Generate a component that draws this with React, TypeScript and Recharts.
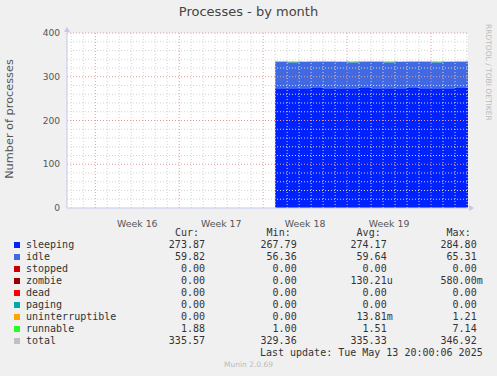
import React from 'react';
import {
  ComposedChart,
  Area,
  Line,
  XAxis,
  YAxis,
  ReferenceLine,
  ReferenceDot,
  ReferenceArea,
} from 'recharts';

// time axis in days from the left edge of the graph
const days = [17.36, 18.36, 19.36, 20.36, 21.36, 22.36, 23.36, 24.36, 25.36, 26.36, 27.36, 28.36, 29.36, 30.36, 31.36, 32.36, 33.44];
const sleeping = [274, 273.6, 274, 274.3, 273.8, 274, 273.7, 274.2, 274, 273.6, 274, 274.3, 273.9, 273.7, 274, 274.1, 273.9];
const idle = [59.8, 59.5, 59.7, 59.6, 59.9, 59.5, 59.7, 59.6, 59.8, 59.7, 59.5, 59.6, 59.8, 59.7, 59.6, 59.7, 59.8];
const runnable = [1.5, 1.6, 1.4, 1.5, 1.7, 1.4, 1.5, 1.6, 1.5, 1.4, 1.5, 1.6, 1.5, 1.5, 1.4, 1.6, 1.9];

const xDomain = [0, 33.44];
const weekLines = [2.36, 9.36, 16.36, 23.36, 30.36];
const weekTicks = [5.86, 12.86, 19.86, 26.86];
const weekLabels = ['Week 16', 'Week 17', 'Week 18', 'Week 19'];
const dayLines = [0.36, 1.36, 3.36, 4.36, 5.36, 6.36, 7.36, 8.36, 10.36, 11.36, 12.36, 13.36, 14.36, 15.36, 17.36, 18.36, 19.36, 20.36, 21.36, 22.36, 24.36, 25.36, 26.36, 27.36, 28.36, 29.36, 31.36, 32.36, 33.36];
const yTicks = [0, 100, 200, 300, 400];
const yMinor = [20, 40, 60, 80, 120, 140, 160, 180, 220, 240, 260, 280, 320, 340, 360, 380];

// legend table
const legendNames = ['sleeping', 'idle', 'stopped', 'zombie', 'dead', 'paging', 'uninterruptible', 'runnable', 'total'];
const legendColors = ['#0022ff', '#4169e1', '#cc0000', '#990000', '#ff0000', '#00aaaa', '#ffa500', '#22ff22', '#c0c0c0'];
const curValues = ['273.87 ', '59.82 ', '0.00 ', '0.00 ', '0.00 ', '0.00 ', '0.00 ', '1.88 ', '335.57 '];
const minValues = ['267.79 ', '56.36 ', '0.00 ', '0.00 ', '0.00 ', '0.00 ', '0.00 ', '1.00 ', '329.36 '];
const avgValues = ['274.17 ', '59.64 ', '0.00 ', '130.21u', '0.00 ', '0.00 ', '13.81m', '1.51 ', '335.33 '];
const maxValues = ['284.80 ', '65.31 ', '0.00 ', '580.00m', '0.00 ', '0.00 ', '1.21 ', '7.14 ', '346.92 '];

const chartData = days.map((d, i) => ({
  day: d,
  sleeping: sleeping[i],
  idle: idle[i],
  runnable: runnable[i],
  total: sleeping[i] + idle[i] + runnable[i],
}));

const minorColor = '#d4d4d4';
const majorColor = '#e39c9c';
const axisColor = '#c6c6ee';
const mono = '"DejaVu Sans Mono", monospace';

const columns = [
  { label: 'Cur:', right: 211, values: curValues },
  { label: 'Min:', right: 302.7, values: minValues },
  { label: 'Avg:', right: 392.7, values: avgValues },
  { label: 'Max:', right: 482.7, values: maxValues },
];

const rowTop = (i: number) => 238.5 + i * 12;

export default function App() {
  return (
    <div
      style={{
        position: 'absolute',
        left: 0,
        top: 0,
        width: 497,
        height: 376,
        background: '#f0f0f0',
        fontFamily: '"DejaVu Sans", sans-serif',
        overflow: 'hidden',
      }}
    >
      <div style={{ position: 'absolute', left: 0, top: 4, width: 497, textAlign: 'center', fontSize: 13, color: '#444', lineHeight: '16px' }}>
        Processes - by month
      </div>
      <div
        style={{
          position: 'absolute',
          left: -90,
          top: 112,
          width: 200,
          height: 14,
          lineHeight: '14px',
          textAlign: 'center',
          fontSize: 11.3,
          color: '#555',
          transform: 'rotate(-90deg)',
        }}
      >
        Number of processes
      </div>
      <div
        style={{
          position: 'absolute',
          left: 483,
          top: 24,
          writingMode: 'vertical-rl',
          fontSize: 7.5,
          color: '#bbb',
          lineHeight: '10px',
        }}
      >
        RRDTOOL / TOBI OETIKER
      </div>

      <ComposedChart width={497} height={376} data={chartData} margin={{ top: 33, right: 29, left: 0, bottom: 0 }}>
        <ReferenceArea x1={xDomain[0]} x2={xDomain[1]} y1={0} y2={400} fill="#ffffff" fillOpacity={1} stroke="none" />
        <XAxis
          dataKey="day"
          type="number"
          domain={xDomain}
          ticks={weekTicks}
          tickFormatter={(v) => weekLabels[weekTicks.indexOf(v)]}
          height={168}
          tickLine={false}
          tickSize={10}
          axisLine={{ stroke: axisColor }}
          tick={{ fontSize: 9.4, fill: '#555' }}
          allowDataOverflow
        />
        <YAxis
          type="number"
          domain={[0, 400]}
          ticks={yTicks}
          width={67}
          tickLine={false}
          tickSize={5}
          axisLine={{ stroke: axisColor }}
          tick={{ fontSize: 9.1, fill: '#555' }}
          allowDataOverflow
        />
        <Area type="stepAfter" dataKey="sleeping" stackId="a" stroke="none" fill="#0022ff" fillOpacity={1} isAnimationActive={false} />
        <Area type="stepAfter" dataKey="idle" stackId="a" stroke="none" fill="#4169e1" fillOpacity={1} isAnimationActive={false} />
        <Area type="stepAfter" dataKey="runnable" stackId="a" stroke="none" fill="#22ff22" fillOpacity={1} isAnimationActive={false} />
        <Line type="stepAfter" dataKey="total" stroke="#c0c0c0" strokeWidth={1} strokeDasharray="4 4" dot={false} isAnimationActive={false} />
        {dayLines.map((d) => (
          <ReferenceLine key={'d' + d} x={d} stroke={minorColor} strokeDasharray="1 2" />
        ))}
        {yMinor.map((v) => (
          <ReferenceLine key={'y' + v} y={v} stroke={minorColor} strokeDasharray="1 2" />
        ))}
        {weekLines.map((d) => (
          <ReferenceLine key={'w' + d} x={d} stroke={majorColor} strokeDasharray="1 2" />
        ))}
        {yTicks.slice(1).map((v) => (
          <ReferenceLine key={'Y' + v} y={v} stroke={majorColor} strokeDasharray="1 2" />
        ))}
        <ReferenceDot
          x={xDomain[1]}
          y={0}
          ifOverflow="visible"
          shape={(p: any) => <path d={`M${p.cx + 1},${p.cy - 3}L${p.cx + 6},${p.cy}L${p.cx + 1},${p.cy + 3}Z`} fill={axisColor} />}
        />
        <ReferenceDot
          x={xDomain[0]}
          y={400}
          ifOverflow="visible"
          shape={(p: any) => <path d={`M${p.cx - 3},${p.cy - 1}L${p.cx},${p.cy - 6}L${p.cx + 3},${p.cy - 1}Z`} fill={axisColor} />}
        />
      </ComposedChart>

      {columns.map((c) => (
        <div
          key={c.label}
          style={{ position: 'absolute', top: 226.5, left: c.right - 100 - 12, width: 100, textAlign: 'right', fontFamily: mono, fontSize: 10, lineHeight: '12px', color: '#333' }}
        >
          {c.label}
        </div>
      ))}
      {legendNames.map((name, i) => (
        <React.Fragment key={name}>
          <div style={{ position: 'absolute', left: 14, top: rowTop(i) + 3, width: 6, height: 6, background: legendColors[i] }} />
          <div style={{ position: 'absolute', left: 26, top: rowTop(i), fontFamily: mono, fontSize: 10, lineHeight: '12px', color: '#333', whiteSpace: 'pre' }}>
            {name}
          </div>
          {columns.map((c) => (
            <div
              key={c.label}
              style={{ position: 'absolute', top: rowTop(i), left: c.right - 100, width: 100, textAlign: 'right', fontFamily: mono, fontSize: 10, lineHeight: '12px', color: '#333', whiteSpace: 'pre' }}
            >
              {c.values[i]}
            </div>
          ))}
        </React.Fragment>
      ))}
      <div style={{ position: 'absolute', top: rowTop(9), left: 182.7, width: 300, textAlign: 'right', fontFamily: mono, fontSize: 10, lineHeight: '12px', color: '#333', whiteSpace: 'pre' }}>
        Last update: Tue May 13 20:00:06 2025
      </div>
      <div style={{ position: 'absolute', top: 360, left: 0, width: 497, textAlign: 'center', fontSize: 7.5, color: '#bbb', lineHeight: '10px' }}>
        Munin 2.0.69
      </div>
    </div>
  );
}
